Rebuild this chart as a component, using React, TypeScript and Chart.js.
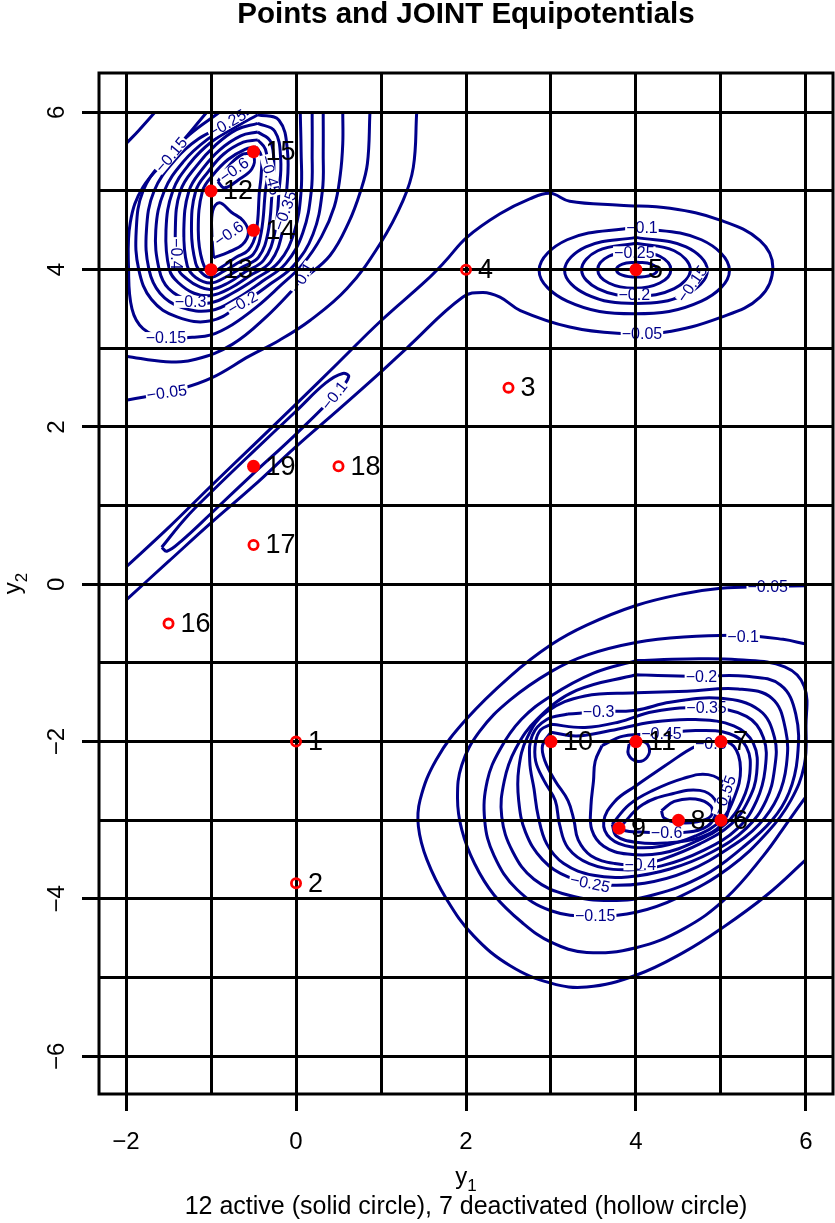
import React, { useEffect, useRef } from 'react';
import { Chart, registerables } from 'chart.js';

Chart.register(...registerables);

type Pt = [number, number];

// ---------- axes ----------
const X_MIN = -2.318;
const X_MAX = 6.318;
const Y_MIN = -6.48;
const Y_MAX = 6.5;
const X_GRID = [-2, -1, 0, 1, 2, 3, 4, 5, 6];
const Y_GRID = [-6, -5, -4, -3, -2, -1, 0, 1, 2, 3, 4, 5, 6];
const X_TICK_LABELS = [-2, 0, 2, 4, 6];
const Y_TICK_LABELS = [-6, -4, -2, 0, 2, 4, 6];

// ---------- points ----------
const ACTIVE_ID = [5, 6, 7, 8, 9, 10, 11, 12, 13, 14, 15, 19];
const ACTIVE_X = [4, 5, 5, 4.5, 3.8, 3, 4, -1, -1, -0.5, -0.5, -0.5];
const ACTIVE_Y = [4, -3, -2, -3, -3.1, -2, -2, 5, 4, 4.5, 5.5, 1.5];
const INACTIVE_ID = [1, 2, 3, 4, 16, 17, 18];
const INACTIVE_X = [0, 0, 2.5, 2, -1.5, -0.5, 0.5];
const INACTIVE_Y = [-2, -3.8, 2.5, 4, -0.5, 0.5, 1.5];

// ---------- equipotential lines ----------
// top-left group
const TL_05: Pt[] = [[-2, 2.34], [-1.7, 2.4], [-1.4, 2.47], [-1.0, 2.62], [-0.55, 2.9], [-0.2, 3.1], [0.16, 3.35], [0.6, 3.76], [0.99, 4.33], [1.26, 4.88], [1.38, 5.3], [1.42, 6.0]];
const TL_10A: Pt[] = [[-2, 5.6], [-1.85, 5.77], [-1.66, 6.0]];
const TL_10B: Pt[] = [[-2, 2.9], [-1.53, 2.83], [-1.18, 2.86], [-0.75, 3.05], [-0.35, 3.4], [0.07, 3.86], [0.4, 4.18], [0.62, 4.6], [0.76, 5.0], [0.84, 5.35], [0.87, 6.0]];
const TL_15: Pt[] = [[-1.05, 6.0], [-1.47, 5.46], [-1.8, 5.05], [-1.95, 4.6], [-1.97, 4.0], [-1.93, 3.5], [-1.8, 3.25], [-1.53, 3.13], [-1.22, 3.14], [-1.0, 3.17], [-0.75, 3.3], [-0.47, 3.52], [-0.2, 3.78], [0.08, 4.07], [0.3, 4.42], [0.45, 4.8], [0.52, 5.2], [0.55, 5.6], [0.55, 6.0]];
const TL_20: Pt[] = [[-0.9, 6.0], [-1.25, 5.72], [-1.55, 5.4], [-1.8, 5.0], [-1.88, 4.5], [-1.85, 4.0], [-1.7, 3.62], [-1.4, 3.4], [-1.0, 3.35], [-0.63, 3.57], [-0.3, 3.82], [-0.03, 4.05], [0.2, 4.45], [0.31, 5.0], [0.32, 5.5], [0.32, 6.0]];
const TL_25: Pt[] = [[-0.7, 6.0], [-0.81, 5.86], [-1.15, 5.66], [-1.42, 5.4], [-1.67, 5.0], [-1.76, 4.5], [-1.73, 4.0], [-1.6, 3.7], [-1.35, 3.52], [-1.0, 3.48], [-0.7, 3.63], [-0.4, 3.85], [-0.12, 4.08], [0.08, 4.47], [0.18, 5.0], [0.19, 5.5], [0.19, 6.0]];
const TL_30: Pt[] = [[-0.55, 6.0], [-0.75, 5.85], [-1.05, 5.65], [-1.32, 5.38], [-1.55, 5.0], [-1.65, 4.5], [-1.61, 4.0], [-1.5, 3.76], [-1.24, 3.6], [-1.0, 3.58], [-0.75, 3.7], [-0.48, 3.88], [-0.2, 4.1], [-0.02, 4.48], [0.06, 5.0], [0.06, 5.5], [0.05, 6.0]];
const TL_35: Pt[] = [[-0.45, 5.97], [-0.7, 5.82], [-1.0, 5.62], [-1.25, 5.35], [-1.45, 5.0], [-1.53, 4.5], [-1.49, 4.0], [-1.38, 3.83], [-1.2, 3.7], [-1.0, 3.67], [-0.78, 3.76], [-0.55, 3.92], [-0.3, 4.1], [-0.16, 4.48], [-0.11, 5.0], [-0.1, 5.5], [-0.2, 5.9], [-0.45, 5.97]];
const TL_40: Pt[] = [[-0.45, 5.86], [-0.7, 5.78], [-0.95, 5.58], [-1.17, 5.32], [-1.36, 5.0], [-1.42, 4.5], [-1.38, 4.0], [-1.28, 3.88], [-1.15, 3.79], [-1.0, 3.75], [-0.8, 3.83], [-0.6, 3.97], [-0.38, 4.12], [-0.25, 4.47], [-0.2, 5.0], [-0.18, 5.4], [-0.25, 5.76], [-0.45, 5.86]];
const TL_45: Pt[] = [[-0.45, 5.75], [-0.65, 5.7], [-0.9, 5.52], [-1.1, 5.28], [-1.26, 5.0], [-1.32, 4.5], [-1.28, 4.05], [-1.18, 3.9], [-1.0, 3.83], [-0.82, 3.91], [-0.62, 4.04], [-0.44, 4.16], [-0.33, 4.47], [-0.28, 5.0], [-0.26, 5.3], [-0.3, 5.63], [-0.45, 5.75]];
const TL_50: Pt[] = [[-0.45, 5.65], [-0.62, 5.62], [-0.85, 5.47], [-1.03, 5.25], [-1.18, 5.0], [-1.23, 4.5], [-1.18, 4.08], [-1.1, 3.95], [-1.0, 3.9], [-0.85, 3.98], [-0.66, 4.1], [-0.5, 4.2], [-0.41, 4.47], [-0.36, 5.0], [-0.33, 5.25], [-0.36, 5.53], [-0.45, 5.65]];
const TL_55: Pt[] = [[-0.47, 5.56], [-0.6, 5.53], [-0.8, 5.4], [-0.98, 5.2], [-1.1, 5.0], [-1.15, 4.5], [-1.1, 4.1], [-1.0, 3.96], [-0.88, 4.03], [-0.7, 4.16], [-0.56, 4.25], [-0.47, 4.47], [-0.43, 5.0], [-0.41, 5.2], [-0.41, 5.45], [-0.47, 5.56]];
const TL_60A: Pt[] = [[-0.97, 4.15], [-0.8, 4.22], [-0.63, 4.32], [-0.56, 4.47], [-0.62, 4.62], [-0.76, 4.73], [-0.9, 4.85], [-0.98, 4.75], [-0.99, 4.45], [-0.97, 4.15]];
const TL_60B: Pt[] = [[-0.92, 5.12], [-0.78, 5.33], [-0.62, 5.47], [-0.5, 5.44], [-0.52, 5.28], [-0.68, 5.14], [-0.84, 5.04], [-0.92, 5.12]];

// diagonal band and top-right group
const DIAG_05: Pt[] = [[-2, 0.22], [-1.5, 0.72], [-1.0, 1.25], [-0.5, 1.77], [0, 2.29], [0.5, 2.82], [1.0, 3.35], [1.53, 3.86], [1.75, 4.1], [2.01, 4.41], [2.4, 4.71], [2.75, 4.9], [2.99, 4.97], [3.22, 4.87], [3.81, 4.82], [4.4, 4.78], [4.99, 4.63], [5.46, 4.37], [5.61, 4.03], [5.46, 3.65], [4.99, 3.39], [4.32, 3.2], [3.78, 3.19], [3.22, 3.27], [2.64, 3.48], [2.4, 3.65], [2.2, 3.71], [1.96, 3.65], [1.31, 3.01], [1.0, 2.7], [0.5, 2.22], [0, 1.75], [-0.5, 1.25], [-1.0, 0.78], [-1.5, 0.29], [-2, -0.2]];
const DIAG_10: Pt[] = [[-1.58, 0.47], [-1.3, 0.84], [-1.0, 1.17], [-0.5, 1.69], [0, 2.2], [0.35, 2.56], [0.55, 2.68], [0.62, 2.64], [0.5, 2.45], [0, 1.91], [-0.5, 1.41], [-1.0, 0.9], [-1.35, 0.55], [-1.52, 0.42], [-1.58, 0.47]];
const TR_10: Pt[] = [[3.98, 4.54], [3.19, 4.38], [2.86, 3.99], [3.19, 3.6], [3.98, 3.44], [4.77, 3.6], [5.1, 3.99], [4.77, 4.38], [3.98, 4.54]];
const TR_15: Pt[] = [[4.0, 4.41], [3.41, 4.29], [3.16, 3.99], [3.41, 3.69], [4.0, 3.57], [4.59, 3.69], [4.84, 3.99], [4.59, 4.29], [4.0, 4.41]];
const TR_20: Pt[] = [[4.0, 4.335], [3.55, 4.24], [3.36, 4.0], [3.55, 3.76], [4.0, 3.665], [4.45, 3.76], [4.64, 4.0], [4.45, 4.24], [4.0, 4.335]];
const TR_25: Pt[] = [[3.98, 4.235], [3.68, 4.17], [3.55, 4.0], [3.68, 3.83], [3.98, 3.765], [4.28, 3.83], [4.41, 4.0], [4.28, 4.17], [3.98, 4.235]];
const TR_30: Pt[] = [[4.01, 4.095], [3.84, 4.07], [3.77, 4.0], [3.84, 3.93], [4.01, 3.905], [4.18, 3.93], [4.25, 4.0], [4.18, 4.07], [4.01, 4.095]];

// bottom-right group
const BR_05: Pt[] = [[6.0, -0.02], [5.5, -0.03], [5.0, -0.05], [4.56, -0.12], [4.0, -0.27], [3.42, -0.52], [3.0, -0.77], [2.52, -1.17], [2.0, -1.72], [1.65, -2.23], [1.46, -2.74], [1.44, -3.08], [1.54, -3.5], [1.77, -4.0], [2.09, -4.47], [2.52, -4.85], [3.0, -5.07], [3.42, -5.12], [4.0, -4.97], [4.56, -4.68], [5.0, -4.38], [5.54, -3.95], [6.0, -3.5]];
const BR_10: Pt[] = [[6.0, -0.76], [5.73, -0.7], [5.26, -0.65], [4.56, -0.67], [4.0, -0.74], [3.42, -0.9], [3.0, -1.11], [2.52, -1.47], [2.16, -1.87], [1.95, -2.3], [1.9, -2.72], [1.95, -3.12], [2.1, -3.55], [2.33, -3.95], [2.66, -4.3], [3.0, -4.55], [3.42, -4.68], [4.0, -4.62], [4.56, -4.38], [5.05, -4.0], [5.5, -3.45], [5.8, -3.0], [6.0, -2.7]];
const BR_15: Pt[] = [[4.0, -0.97], [4.6, -0.95], [5.2, -0.96], [5.75, -1.05], [5.98, -1.3], [6.0, -1.8], [5.98, -2.3], [5.82, -2.75], [5.55, -3.15], [5.1, -3.6], [4.5, -3.98], [4.0, -4.17], [3.5, -4.22], [3.0, -4.15], [2.6, -3.88], [2.33, -3.45], [2.22, -3.0], [2.25, -2.5], [2.4, -2.1], [2.65, -1.72], [3.0, -1.42], [3.5, -1.13], [4.0, -0.97]];
const BR_20: Pt[] = [[4.0, -1.15], [4.7, -1.17], [5.3, -1.17], [5.7, -1.28], [5.88, -1.65], [5.9, -2.2], [5.8, -2.65], [5.6, -3.0], [5.25, -3.35], [4.8, -3.7], [4.2, -3.95], [3.7, -4.02], [3.2, -3.95], [2.8, -3.75], [2.55, -3.4], [2.42, -2.95], [2.45, -2.5], [2.58, -2.1], [2.85, -1.7], [3.3, -1.35], [4.0, -1.15]];
const BR_25: Pt[] = [[4.0, -1.38], [4.6, -1.36], [5.2, -1.33], [5.6, -1.45], [5.76, -1.85], [5.77, -2.3], [5.67, -2.7], [5.45, -3.05], [5.1, -3.35], [4.6, -3.65], [4.1, -3.8], [3.6, -3.82], [3.2, -3.72], [2.9, -3.5], [2.7, -3.15], [2.62, -2.75], [2.62, -2.35], [2.72, -1.95], [2.95, -1.62], [3.4, -1.42], [4.0, -1.38]];
const BR_30: Pt[] = [[3.2, -1.65], [3.56, -1.62], [4.0, -1.6], [4.4, -1.5], [5.0, -1.45], [5.45, -1.6], [5.63, -1.95], [5.63, -2.35], [5.53, -2.75], [5.3, -3.1], [4.9, -3.4], [4.4, -3.62], [3.9, -3.72], [3.5, -3.7], [3.15, -3.55], [2.95, -3.3], [2.85, -2.95], [2.8, -2.6], [2.75, -2.25], [2.78, -1.92], [2.95, -1.72], [3.2, -1.65]];
const BR_35: Pt[] = [[3.0, -1.78], [3.4, -1.82], [3.8, -1.75], [4.2, -1.62], [4.83, -1.57], [5.3, -1.68], [5.5, -1.95], [5.52, -2.35], [5.42, -2.75], [5.2, -3.1], [4.8, -3.38], [4.3, -3.58], [3.85, -3.63], [3.45, -3.55], [3.2, -3.35], [3.1, -3.05], [3.05, -2.75], [2.92, -2.5], [2.82, -2.25], [2.82, -2.0], [2.88, -1.85], [3.0, -1.78]];
const BR_40: Pt[] = [[3.0, -1.88], [3.3, -1.93], [3.7, -1.86], [4.2, -1.75], [4.7, -1.72], [5.15, -1.8], [5.38, -2.02], [5.42, -2.4], [5.32, -2.75], [5.12, -3.05], [4.75, -3.3], [4.3, -3.5], [4.05, -3.56], [3.75, -3.55], [3.47, -3.45], [3.32, -3.25], [3.27, -3.0], [3.2, -2.75], [3.05, -2.5], [2.93, -2.25], [2.9, -2.05], [3.0, -1.88]];
const BR_45: Pt[] = [[3.6, -2.05], [3.85, -1.93], [4.28, -1.9], [4.7, -1.86], [5.1, -1.9], [5.3, -2.07], [5.34, -2.4], [5.25, -2.75], [5.05, -3.05], [4.7, -3.27], [4.3, -3.42], [3.9, -3.43], [3.62, -3.33], [3.48, -3.12], [3.47, -2.82], [3.5, -2.5], [3.52, -2.25], [3.6, -2.05]];
const BR_50A: Pt[] = [[3.92, -2.03], [4.05, -1.99], [4.15, -2.06], [4.13, -2.2], [4.01, -2.25], [3.91, -2.16], [3.92, -2.03]];
const BR_50B: Pt[] = [[4.35, -2.3], [4.7, -2.06], [4.95, -1.99], [5.15, -2.06], [5.23, -2.35], [5.16, -2.7], [5.0, -3.0], [4.7, -3.2], [4.3, -3.33], [3.95, -3.34], [3.7, -3.23], [3.62, -3.02], [3.75, -2.76], [4.0, -2.56], [4.35, -2.3]];
const BR_55: Pt[] = [[3.72, -3.05], [3.92, -2.8], [4.2, -2.62], [4.55, -2.47], [4.85, -2.42], [5.06, -2.56], [5.1, -2.8], [5.01, -3.05], [4.75, -3.22], [4.35, -3.29], [4.0, -3.28], [3.77, -3.2], [3.72, -3.05]];
const BR_60: Pt[] = [[3.82, -3.08], [4.08, -2.8], [4.44, -2.66], [4.75, -2.62], [4.93, -2.74], [4.93, -2.95], [4.8, -3.1], [4.5, -3.16], [4.05, -3.15], [3.86, -3.13], [3.82, -3.08]];
const BR_65: Pt[] = [[4.3, -2.88], [4.45, -2.76], [4.7, -2.73], [4.88, -2.82], [4.88, -2.95], [4.72, -3.02], [4.5, -3.03], [4.33, -2.97], [4.3, -2.88]];

const CONTOURS: Pt[][] = [
  TL_05, TL_10A, TL_10B, TL_15, TL_20, TL_25, TL_30, TL_35, TL_40, TL_45, TL_50, TL_55, TL_60A, TL_60B,
  DIAG_05, DIAG_10, TR_10, TR_15, TR_20, TR_25, TR_30,
  BR_05, BR_10, BR_15, BR_20, BR_25, BR_30, BR_35, BR_40, BR_45, BR_50A, BR_50B, BR_55, BR_60, BR_65,
];

// contour labels: text, x, y, rotation (deg)
const LABEL_TEXT = ['−0.1', '−0.25', '−0.2', '−0.15', '−0.05', '−0.15', '−0.25', '−0.6', '−0.45', '−0.6', '−0.4', '−0.35', '−0.3', '−0.2', '−0.15', '−0.1', '−0.05', '−0.1', '−0.05', '−0.1', '−0.2', '−0.3', '−0.35', '−0.45', '−0.5', '−0.55', '−0.6', '−0.4', '−0.25', '−0.15'];
const LABEL_X = [4.07, 3.98, 3.98, 4.66, 4.07, -1.47, -0.81, -0.73, -0.3, -0.79, -1.41, -0.13, -1.24, -0.63, -1.53, 0.07, -1.52, 0.45, 5.55, 5.26, 4.77, 3.56, 4.83, 4.3, 4.88, 5.04, 4.36, 4.05, 3.46, 3.52];
const LABEL_Y = [4.53, 4.22, 3.68, 3.82, 3.19, 5.46, 5.86, 5.27, 5.2, 4.46, 4.2, 4.75, 3.59, 3.58, 3.13, 3.9, 2.44, 2.4, -0.03, -0.66, -1.17, -1.62, -1.57, -1.9, -2.02, -2.68, -3.16, -3.56, -3.8, -4.21];
const LABEL_ROT = [0, 0, 0, -55, 0, -50, -30, -35, 75, -35, 90, -70, 0, -30, 0, -60, -8, -52, 0, 0, 0, 0, 0, 0, 0, -70, 0, 0, 12, 0];

const TITLE = 'Points and JOINT Equipotentials';
const SUBTITLE = '12 active (solid circle), 7 deactivated (hollow circle)';

const FONT = '"Liberation Sans", Arial, Helvetica, sans-serif';
const LINE_COLOR = '#00008B';

function toXY(arr: Pt[]) {
  return arr.map(([x, y]) => ({ x, y }));
}

export default function App() {
  const ref = useRef<HTMLCanvasElement>(null);

  useEffect(() => {
    const canvas = ref.current;
    if (!canvas) return;

    const fmt = (v: number) => (v < 0 ? '−' + Math.abs(v) : String(v));

    const overlay = {
      id: 'overlay',
      beforeDatasetDraw(chart: any, args: any) {
        if (chart.data.datasets[args.index].isPoints) return false;
        return true;
      },
      afterDatasetsDraw(chart: any) {
        const ctx = chart.ctx;
        const xs = chart.scales.x;
        const ys = chart.scales.y;
        ctx.save();
        ctx.beginPath();
        ctx.rect(chart.chartArea.left, chart.chartArea.top, chart.chartArea.right - chart.chartArea.left, chart.chartArea.bottom - chart.chartArea.top);
        ctx.clip();
        ctx.font = `16px ${FONT}`;
        ctx.textAlign = 'center';
        ctx.textBaseline = 'middle';
        for (let i = 0; i < LABEL_TEXT.length; i++) {
          const px = xs.getPixelForValue(LABEL_X[i]);
          const py = ys.getPixelForValue(LABEL_Y[i]);
          ctx.save();
          ctx.translate(px, py);
          ctx.rotate((LABEL_ROT[i] * Math.PI) / 180);
          const w = ctx.measureText(LABEL_TEXT[i]).width;
          ctx.fillStyle = '#ffffff';
          ctx.fillRect(-w / 2 - 1, -6, w + 2, 12);
          ctx.fillStyle = LINE_COLOR;
          ctx.fillText(LABEL_TEXT[i], 0, 1);
          ctx.restore();
        }
        ctx.restore();
      },
      afterDraw(chart: any) {
        const ctx = chart.ctx;
        const xs = chart.scales.x;
        const ys = chart.scales.y;
        const a = chart.chartArea;
        // frame
        ctx.save();
        ctx.strokeStyle = '#000';
        ctx.lineWidth = 3;
        ctx.strokeRect(a.left, a.top, a.right - a.left, a.bottom - a.top);
        ctx.restore();
        // points on top of the grid
        chart.data.datasets.forEach((ds: any, i: number) => {
          if (ds.isPoints) {
            ctx.save();
            chart.getDatasetMeta(i).controller.draw();
            ctx.restore();
          }
        });
        // point numbers
        ctx.save();
        ctx.fillStyle = '#000';
        ctx.font = `27px ${FONT}`;
        ctx.textAlign = 'left';
        ctx.textBaseline = 'middle';
        const putIds = (ids: number[], X: number[], Y: number[]) => {
          ids.forEach((id, k) => {
            ctx.fillText(String(id), xs.getPixelForValue(X[k]) + 12, ys.getPixelForValue(Y[k]) + 1);
          });
        };
        putIds(ACTIVE_ID, ACTIVE_X, ACTIVE_Y);
        putIds(INACTIVE_ID, INACTIVE_X, INACTIVE_Y);
        ctx.restore();
        // tick labels
        ctx.save();
        ctx.fillStyle = '#000';
        ctx.font = `24px ${FONT}`;
        ctx.textAlign = 'center';
        ctx.textBaseline = 'middle';
        X_TICK_LABELS.forEach((v) => ctx.fillText(fmt(v), xs.getPixelForValue(v), 1142));
        Y_TICK_LABELS.forEach((v) => {
          ctx.save();
          ctx.translate(57, ys.getPixelForValue(v));
          ctx.rotate(-Math.PI / 2);
          ctx.fillText(fmt(v), 0, 0);
          ctx.restore();
        });
        // axis titles
        const cx = (a.left + a.right) / 2;
        ctx.textAlign = 'left';
        ctx.font = `24px ${FONT}`;
        const wy = ctx.measureText('y').width;
        ctx.font = `17px ${FONT}`;
        const w1 = ctx.measureText('1').width;
        const sx = cx - (wy + w1) / 2;
        ctx.font = `24px ${FONT}`;
        ctx.fillText('y', sx, 1177);
        ctx.font = `17px ${FONT}`;
        ctx.fillText('1', sx + wy, 1186);
        ctx.save();
        ctx.translate(13, (a.top + a.bottom) / 2);
        ctx.rotate(-Math.PI / 2);
        ctx.font = `24px ${FONT}`;
        ctx.fillText('y', -(wy + w1) / 2, 0);
        ctx.font = `17px ${FONT}`;
        ctx.fillText('2', -(wy + w1) / 2 + wy, 9);
        ctx.restore();
        ctx.textAlign = 'center';
        ctx.font = `25px ${FONT}`;
        ctx.fillText(SUBTITLE, cx, 1207);
        ctx.font = `bold 29.5px ${FONT}`;
        ctx.fillText(TITLE, cx, 15);
        ctx.restore();
      },
    };

    const contourSets = CONTOURS.map((c) => ({
      data: toXY(c),
      showLine: true,
      borderColor: LINE_COLOR,
      borderWidth: 3,
      pointRadius: 0,
      pointHoverRadius: 0,
      tension: 0.4,
      fill: false,
    }));

    const activeSet: any = {
      isPoints: true,
      data: ACTIVE_X.map((x, i) => ({ x, y: ACTIVE_Y[i] })),
      showLine: false,
      pointRadius: 6.5,
      pointBackgroundColor: '#ff0000',
      pointBorderColor: '#ff0000',
      pointBorderWidth: 0,
    };
    const inactiveSet: any = {
      isPoints: true,
      data: INACTIVE_X.map((x, i) => ({ x, y: INACTIVE_Y[i] })),
      showLine: false,
      pointRadius: 4.6,
      pointBackgroundColor: 'rgba(0,0,0,0)',
      pointBorderColor: '#ff0000',
      pointBorderWidth: 2.8,
    };

    const tickColor = (list: number[]) => (ctx: any) =>
      ctx.tick && list.includes(ctx.tick.value) ? '#000' : 'rgba(0,0,0,0)';

    const chart = new Chart(canvas, {
      type: 'scatter',
      data: { datasets: [...contourSets, activeSet, inactiveSet] as any },
      options: {
        animation: false,
        responsive: false,
        devicePixelRatio: 1,
        events: [],
        layout: { autoPadding: false, padding: { top: 73, right: 2, left: 0, bottom: 0 } },
        plugins: { legend: { display: false }, tooltip: { enabled: false }, title: { display: false } },
        scales: {
          x: {
            type: 'linear',
            position: 'bottom',
            min: X_MIN,
            max: X_MAX,
            afterBuildTicks: (s: any) => {
              s.ticks = X_GRID.map((v) => ({ value: v }));
            },
            afterFit: (s: any) => {
              s.height = 129;
              s.paddingLeft = 0;
              s.paddingRight = 0;
              s.paddingTop = 0;
              s.paddingBottom = 0;
            },
            ticks: { display: false },
            border: { display: false },
            grid: {
              z: 1,
              color: '#000',
              lineWidth: 3,
              drawTicks: true,
              tickLength: 17,
              tickWidth: 3,
              tickColor: tickColor(X_TICK_LABELS),
            } as any,
          },
          y: {
            type: 'linear',
            position: 'left',
            min: Y_MIN,
            max: Y_MAX,
            afterBuildTicks: (s: any) => {
              s.ticks = Y_GRID.map((v) => ({ value: v }));
            },
            afterFit: (s: any) => {
              s.width = 99;
              s.paddingLeft = 0;
              s.paddingRight = 0;
              s.paddingTop = 0;
              s.paddingBottom = 0;
            },
            ticks: { display: false },
            border: { display: false },
            grid: {
              z: 1,
              color: '#000',
              lineWidth: 3,
              drawTicks: true,
              tickLength: 17,
              tickWidth: 3,
              tickColor: tickColor(Y_TICK_LABELS),
            } as any,
          },
        },
      } as any,
      plugins: [overlay],
    });

    return () => chart.destroy();
  }, []);

  return (
    <canvas
      ref={ref}
      width={835}
      height={1223}
      style={{ position: 'absolute', left: 0, top: 0, width: 835, height: 1223, display: 'block' }}
    />
  );
}
